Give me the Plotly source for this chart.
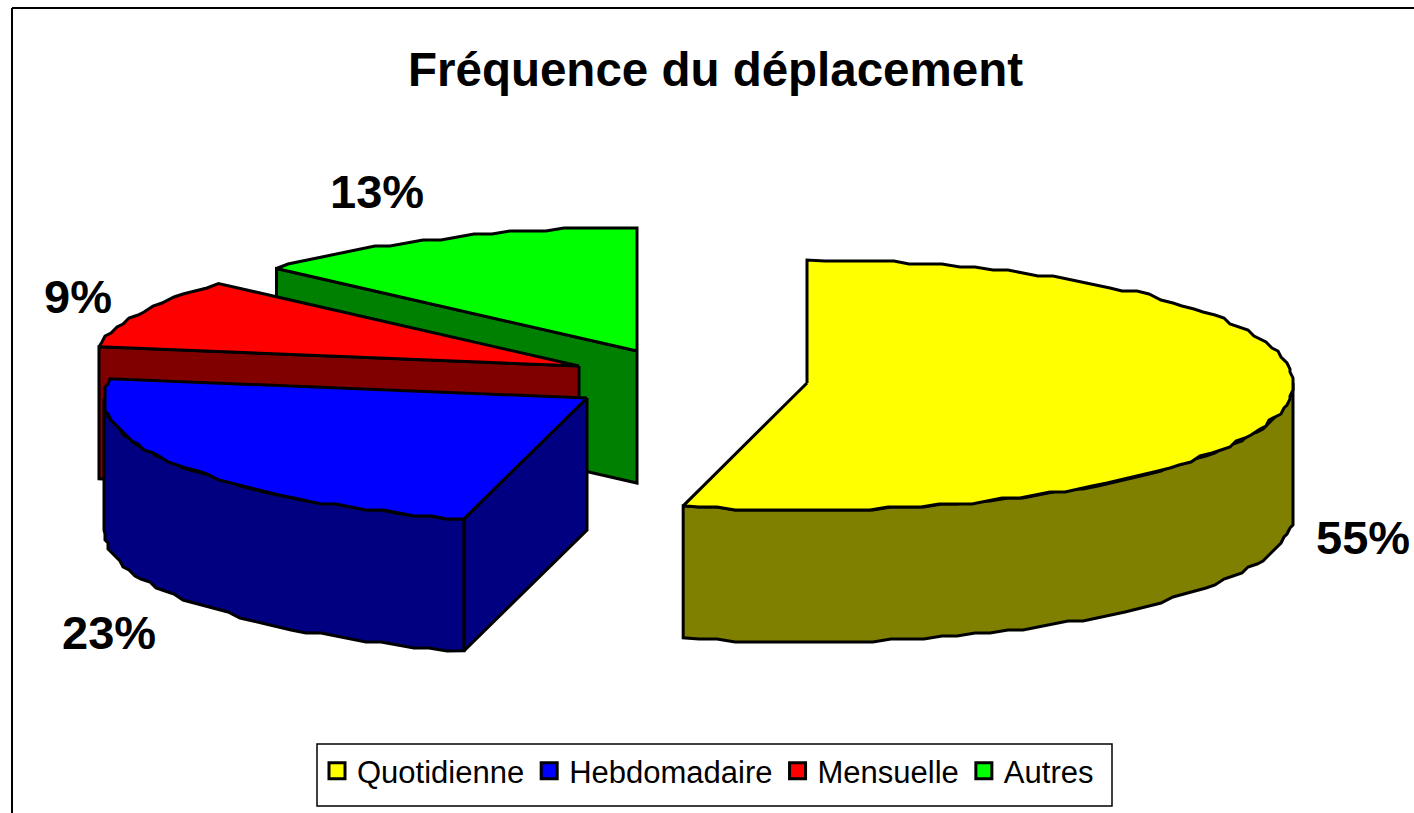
import numpy as np
import plotly.graph_objects as go

# ---- data ----
categories = ["Quotidienne", "Hebdomadaire", "Mensuelle", "Autres"]
shares = [54.1, 23.4, 9.2, 13.3]          # angular share of each slice, as drawn
value_labels = ["55%", "23%", "9%", "13%"]

# ---- styling / layout ----
top_colors = ["#FFFF00", "#0000FF", "#FF0000", "#00FF00"]
side_colors = ["#808000", "#000080", "#800000", "#008000"]
centers = [(807, 383), (587, 398), (579, 366), (637, 351)]   # exploded apex of each slice
RX = [486, 483, 486, 486]
RY_BACK = 123
RY_FRONT = [127, 125, 123, 123]
DEPTH = 132
label_pos = [(1363, 537), (109, 632), (78, 296), (377, 191)]
LW = 3
FONT = "Liberation Sans"
STEP = 2.0       # degrees between rim samples
QX, QY = 3, 3    # pixel quantisation giving the original's stepped outline


def ell(i, deg):
    deg = np.asarray(deg, dtype=float)
    t = np.radians(deg)
    cx, cy = centers[i]
    c = np.cos(t)
    ry = np.where(c >= 0, RY_BACK, RY_FRONT[i])
    return cx + RX[i] * np.sin(t), cy - ry * c


def rim(i, a0, a1):
    n = max(int((a1 - a0) / STEP), 2)
    d = np.linspace(a0, a1, n)
    x, y = ell(i, d)
    xq, yq = np.round(x / QX) * QX, np.round(y / QY) * QY
    xq[0], yq[0], xq[-1], yq[-1] = x[0], y[0], x[-1], y[-1]
    return xq, yq


def poly(x, y, color):
    x = list(x) + [x[0]]
    y = list(y) + [y[0]]
    return go.Scatter(x=x, y=y, mode="lines", fill="toself", fillcolor=color,
                      line=dict(color="black", width=LW), showlegend=False,
                      hoverinfo="skip")


ends = np.cumsum(shares) / np.sum(shares) * 360
starts = np.concatenate([[0], ends[:-1]])

traces = []
for i in [3, 2, 1, 0]:  # back to front
    a0, a1 = starts[i], ends[i]
    cx, cy = centers[i]
    # flat cut face at the start of the slice, seen from the viewer's side
    if i > 0:
        ex, ey = ell(i, a0)
        ex, ey = float(ex), float(ey)
        traces.append(poly([cx, ex, ex, cx], [cy, ey, ey + DEPTH, cy + DEPTH], side_colors[i]))
    # curved outer wall: only the front half of the rim is visible
    lo, hi = max(a0, 90), min(a1, 270)
    if lo < hi:
        rx, ry = rim(i, lo, hi)
        traces.append(poly(np.concatenate([rx, rx[::-1]]),
                           np.concatenate([ry, ry[::-1] + DEPTH]), side_colors[i]))
    # top face
    rx, ry = rim(i, a0, a1)
    traces.append(poly(np.concatenate([[cx], rx]), np.concatenate([[cy], ry]), top_colors[i]))

# legend entries
for name, col in zip(categories, top_colors):
    traces.append(go.Scatter(x=[None], y=[None], mode="markers", name=name,
                             marker=dict(symbol="square", size=17, color=col,
                                         line=dict(color="black", width=3))))

fig = go.Figure(traces)

annotations = [dict(x=x, y=y, text=f"<b>{t}</b>", showarrow=False, xref="x", yref="y",
                    font=dict(family=FONT, size=47, color="black"))
               for t, (x, y) in zip(value_labels, label_pos)]
annotations.append(dict(x=715, y=69, text="<b>Fréquence du déplacement</b>", showarrow=False,
                        xref="x", yref="y", font=dict(family=FONT, size=47.5, color="black")))

fig.update_layout(
    width=1414, height=813,
    margin=dict(l=0, r=0, t=0, b=0),
    paper_bgcolor="white", plot_bgcolor="white",
    xaxis=dict(range=[0, 1414], visible=False, fixedrange=True),
    yaxis=dict(range=[813, 0], visible=False, fixedrange=True),
    annotations=annotations,
    shapes=[
        dict(type="line", xref="x", yref="y", x0=12, y0=8, x1=1414, y1=8,
             line=dict(color="black", width=2)),
        dict(type="line", xref="x", yref="y", x0=12, y0=8, x1=12, y1=813,
             line=dict(color="black", width=2)),
        dict(type="rect", xref="x", yref="y", x0=317, y0=744, x1=1112, y1=806,
             line=dict(color="black", width=1.5), fillcolor="white", layer="below"),
    ],
    legend=dict(orientation="h", x=317 / 1414, y=1 - 744 / 813, xanchor="left", yanchor="top",
                bgcolor="rgba(0,0,0,0)", font=dict(family=FONT, size=31, color="black"),
                itemsizing="trace", itemwidth=30),
)
fig.write_html("out.html", config=dict(displayModeBar=False),
               post_script="document.body.style.margin='0';document.body.style.overflow='hidden';")
